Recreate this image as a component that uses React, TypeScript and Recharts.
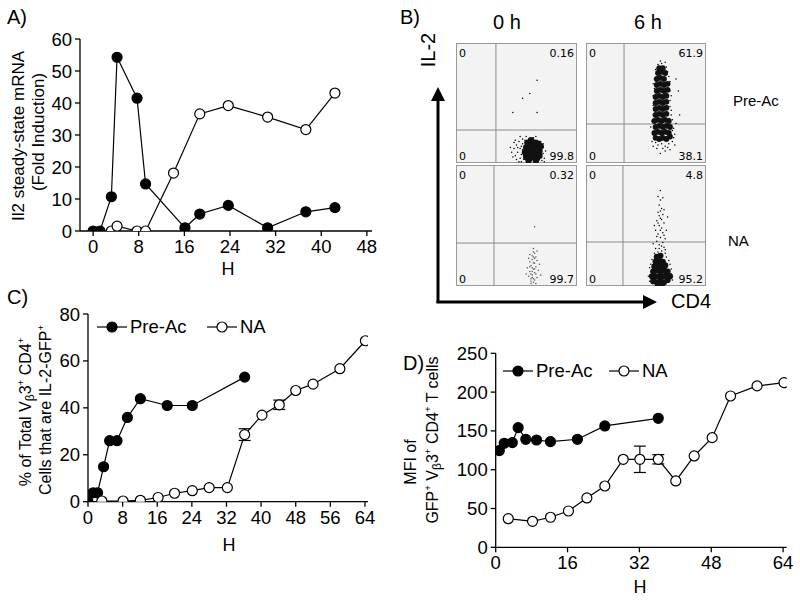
import React from 'react'
import {
  LineChart,
  Line,
  XAxis,
  YAxis,
  ErrorBar,
  ScatterChart,
  Scatter,
  ReferenceLine,
} from 'recharts'

const SANS = '"Liberation Sans", Arial, Helvetica, sans-serif'
const FLOW = '"DejaVu Sans", Verdana, sans-serif'

// A) Il2 steady-state mRNA (fold induction) vs H
const aPreAcH = [0, 1.2, 3.2, 4.2, 7.7, 9.2, 16.1, 18.7, 23.7, 30.6, 37.3, 42.4]
const aPreAcVal = [0, 0, 10.7, 54.3, 41.5, 14.7, 1.0, 5.3, 8.0, 1.0, 6.0, 7.3]
const aNaH = [3.2, 4.2, 7.7, 9.2, 14.1, 18.7, 23.7, 30.6, 37.3, 42.4]
const aNaVal = [0, 1.5, 0, 0, 18.1, 36.6, 39.2, 35.6, 31.7, 43.1]
const aTicksX = [0, 8, 16, 24, 32, 40, 48]
const aTicksY = [0, 10, 20, 30, 40, 50, 60]

// C) % IL-2-GFP+ cells
const cPreAcH = [0, 1.2, 2.2, 3.6, 5.0, 6.7, 9.1, 12.1, 18.3, 24.1, 36.2]
const cPreAcVal = [0, 3.8, 3.8, 14.9, 26.0, 26.0, 35.9, 43.9, 41.0, 41.0, 53.1]
const cNaH = [3.2, 8.1, 12.1, 16.2, 20.0, 24.1, 28.0, 32.2, 36.2, 40.2, 44.2, 48.0, 52.0, 58.2, 64.1]
const cNaVal = [0.3, 0.3, 0.6, 1.8, 3.6, 4.7, 6.0, 6.0, 28.6, 36.9, 41.3, 47.4, 50.1, 56.7, 68.6]
const cNaErr = [null, null, null, null, null, null, null, null, 2.5, null, 2, null, null, null, null]
const cTicksX = [0, 8, 16, 24, 32, 40, 48, 56, 64]
const cTicksY = [0, 20, 40, 60, 80]

// D) MFI of GFP+ cells
const dPreAcH = [0.8, 1.9, 3.7, 5.0, 6.7, 9.1, 12.2, 18.2, 24.3, 36.2]
const dPreAcVal = [124.6, 134, 134.9, 154.2, 139.2, 138.3, 136.2, 139.2, 156.4, 166.2]
const dNaH = [2.8, 8.2, 12.2, 16.2, 20.3, 24.3, 28.4, 32.1, 36.2, 40.1, 44.2, 48.2, 52.3, 58.2, 64.2]
const dNaVal = [36.9, 33.5, 38.7, 46.8, 63.6, 79.0, 113.4, 113.4, 113.4, 85.5, 117.7, 141.3, 195, 208, 212.2]
const dNaErr = [null, null, null, null, null, null, null, 17, 6, null, null, null, null, null, null]
const dTicksX = [0, 16, 32, 48, 64]
const dTicksY = [0, 50, 100, 150, 200, 250]

// B) flow plots, CD4 (x) vs IL-2 (y), box units 0-100
const preAc0Core = [
  [58, 5], [61, 4], [64, 5], [67, 4], [69, 6], [57, 9], [60, 8], [63, 9], [66, 8], [69, 10],
  [58, 13], [61, 12], [64, 13], [67, 12], [70, 14], [59, 17], [62, 16], [65, 17], [68, 16],
  [60, 2], [66, 2], [62, 19],
]
const preAc0Sparse = [
  [46, 9], [48, 12], [49, 6], [50, 15], [51, 9], [52, 18], [53, 4], [53, 12], [54, 7], [55, 16],
  [55, 20], [56, 3], [57, 19], [61, 20], [64, 21], [67, 19], [70, 18], [72, 8], [72, 13], [73, 4],
  [71, 2], [48, 17], [50, 3], [52, 1], [47, 5], [49, 19], [51, 13], [54, 1], [55, 11], [53, 22],
  [58, 22], [66, 22], [72, 16], [74, 10], [73, 1], [45, 13], [56, 6], [54, 14],
  [67, 69], [61, 58], [55, 54], [47, 42], [67, 42],
]
const preAc6Core = [
  [58, 21], [61, 20], [64, 21], [67, 20], [70, 22], [57, 25], [60, 26], [63, 25], [66, 26], [69, 25],
  [58, 30], [61, 31], [64, 30], [67, 31], [70, 30], [57, 35], [60, 36], [63, 35], [66, 36], [69, 35],
  [58, 40], [61, 41], [64, 40], [67, 41], [58, 45], [61, 46], [64, 45], [67, 46], [58, 50], [61, 51],
  [64, 50], [67, 51], [58, 55], [61, 56], [64, 55], [67, 56], [59, 60], [62, 61], [65, 60], [68, 61],
  [59, 65], [62, 66], [65, 65], [68, 66], [59, 70], [62, 71], [65, 70], [60, 75], [63, 76], [66, 75],
  [61, 79], [64, 79],
]
const preAc6Sparse = [
  [55, 18], [56, 14], [60, 15], [63, 16], [66, 14], [69, 16], [72, 18], [74, 24], [73, 29], [72, 36],
  [71, 44], [70, 52], [70, 60], [70, 68], [56, 40], [56, 48], [56, 56], [57, 62], [57, 70], [58, 78],
  [68, 76], [67, 80], [63, 83], [75, 70], [77, 60], [78, 40], [54, 30], [66, 10], [62, 8], [59, 12],
  [73, 21], [75, 33], [72, 27], [71, 40], [70, 47], [71, 56], [69, 72], [56, 24], [55, 35], [56, 66],
  [60, 82], [66, 84], [62, 85], [58, 17], [68, 13], [64, 12], [74, 15], [70, 11],
]
const na0Dots = [
  [62, 4], [64, 6], [63, 9], [65, 11], [61, 12], [64, 14], [66, 16], [62, 17], [65, 19], [63, 22],
  [66, 24], [61, 26], [64, 28], [67, 29], [60, 8], [67, 7], [62, 2], [66, 2], [59, 15], [68, 13],
  [63, 25], [65, 5], [61, 20], [67, 21], [64, 31], [60, 23], [69, 18], [58, 10], [70, 9], [65, 27],
  [63, 15], [62, 6], [66, 10], [64, 19], [63, 12], [61, 16], [65, 23], [64, 3], [63, 7], [65, 14],
  [62, 10], [64, 24], [65, 49],
]
const na6Core = [
  [56, 4], [59, 3], [62, 4], [65, 3], [68, 5], [55, 8], [58, 8], [61, 8], [64, 8], [67, 9],
  [70, 8], [56, 12], [59, 13], [62, 12], [65, 13], [68, 12], [57, 16], [60, 17], [63, 16], [66, 17],
  [58, 20], [61, 21], [64, 20], [59, 24], [62, 25], [60, 1], [63, 1],
]
const na6Sparse = [
  [60, 28], [63, 29], [58, 31], [65, 32], [61, 34], [64, 36], [59, 37], [66, 39], [62, 40], [60, 43],
  [64, 44], [58, 46], [63, 48], [61, 50], [65, 52], [59, 54], [62, 56], [64, 59], [60, 61], [63, 64],
  [61, 67], [62, 71], [60, 74], [64, 73], [66, 30], [57, 27], [55, 22], [53, 15], [52, 8], [71, 14],
  [72, 5], [70, 18], [67, 24], [56, 35], [67, 46], [57, 50], [68, 57], [61, 31], [63, 33], [59, 41],
  [65, 42], [62, 46], [60, 52], [63, 55], [61, 58], [65, 63], [62, 62], [66, 27], [58, 26], [54, 18],
  [71, 10], [53, 4], [69, 21], [62, 79],
]

const zip = (hs: number[], vs: number[], errs?: (number | null)[]) =>
  hs.map((h, i) => ({ h, v: vs[i], err: errs && errs[i] != null ? errs[i] : undefined }))
const pts = (arr: number[][]) => arr.map(([x, y]) => ({ x, y }))

const tickStyle = { fontSize: 18.5, fill: '#000', fontFamily: SANS }
const axisLine = { stroke: '#000', strokeWidth: 1.3 }

function Txt({ x, y, size = 18, rotate = false, anchor = 'center', family = SANS, children }: any) {
  const tx = anchor === 'center' ? '-50%' : anchor === 'end' ? '-100%' : '0'
  return (
    <div
      style={{
        position: 'absolute', left: x, top: y, fontSize: size, fontFamily: family, lineHeight: 1,
        whiteSpace: 'nowrap', color: '#000',
        transform: `translate(${tx},-50%)${rotate ? ' rotate(-90deg)' : ''}`,
      }}
    >
      {children}
    </div>
  )
}

const Sup = ({ children }: any) => <sup style={{ fontSize: '0.6em', verticalAlign: '0.7em' }}>{children}</sup>
const Sub = ({ children }: any) => <sub style={{ fontSize: '0.75em', verticalAlign: '-0.2em' }}>{children}</sub>

function LegendKey({ x, y, filled, label }: any) {
  return (
    <div style={{ position: 'absolute', left: x, top: y - 10, height: 20, display: 'flex', alignItems: 'center' }}>
      <svg width={30} height={20}>
        <line x1={0} y1={10} x2={30} y2={10} stroke="#000" strokeWidth={1.2} />
        <circle cx={15} cy={10} r={5} fill={filled ? '#000' : '#fff'} stroke="#000" strokeWidth={1.2} />
      </svg>
      <span style={{ fontFamily: SANS, fontSize: 18.5, marginLeft: 3, lineHeight: 1 }}>{label}</span>
    </div>
  )
}

const dotFilled = { r: 5, fill: '#000', stroke: '#000', strokeWidth: 1.2 }
const dotOpen = { r: 5, fill: '#fff', stroke: '#000', strokeWidth: 1.2 }

function Panel({ left, top, width, height, margin, xDomain, xTicks, yDomain, yTicks, yWidth, series }: any) {
  return (
    <div style={{ position: 'absolute', left, top }}>
      <LineChart width={width} height={height} margin={margin}>
        <XAxis
          type="number" dataKey="h" domain={xDomain} ticks={xTicks} allowDataOverflow height={30}
          tick={tickStyle} tickSize={5} tickMargin={4} axisLine={axisLine} tickLine={axisLine} interval={0}
        />
        <YAxis
          type="number" dataKey="v" domain={yDomain} ticks={yTicks} allowDataOverflow width={yWidth}
          tick={tickStyle} tickSize={5} tickMargin={3} axisLine={axisLine} tickLine={axisLine} interval={0}
        />
        {series.map((s: any, i: number) => (
          <Line
            key={i} data={s.data} dataKey="v" type="linear" stroke="#000" strokeWidth={1.2}
            dot={s.filled ? dotFilled : dotOpen} activeDot={false} isAnimationActive={false}
          >
            {s.err && <ErrorBar dataKey="err" direction="y" width={6} stroke="#000" strokeWidth={1.2} />}
          </Line>
        ))}
      </LineChart>
    </div>
  )
}

const dotShape = (r: number, fill: string) => (p: any) => <circle cx={p.cx} cy={p.cy} r={r} fill={fill} />

function FlowBox({ left, top, width, height, vx, hy, core, sparse, coreR = 3, sparseFill = '#000', tl, tr, bl, br }: any) {
  return (
    <div style={{ position: 'absolute', left, top, width, height, background: '#f3f3f3', outline: '1px solid #9a9a9a', outlineOffset: -1 }}>
      <ScatterChart width={width} height={height} margin={{ top: 0, right: 0, bottom: 0, left: 0 }}>
        <XAxis type="number" dataKey="x" domain={[0, 100]} hide />
        <YAxis type="number" dataKey="y" domain={[0, 100]} hide />
        <ReferenceLine x={vx} stroke="#8c8c8c" strokeWidth={1} />
        <ReferenceLine y={hy} stroke="#8c8c8c" strokeWidth={1} />
        {sparse && <Scatter data={pts(sparse)} shape={dotShape(0.75, sparseFill)} isAnimationActive={false} />}
        {core && <Scatter data={pts(core)} shape={dotShape(coreR, '#111')} isAnimationActive={false} />}
      </ScatterChart>
      <Txt x={3} y={10} size={11} anchor="start" family={FLOW}>{tl}</Txt>
      <Txt x={width - 3} y={10} size={11} anchor="end" family={FLOW}>{tr}</Txt>
      <Txt x={3} y={height - 7} size={11} anchor="start" family={FLOW}>{bl}</Txt>
      <Txt x={width - 3} y={height - 7} size={11} anchor="end" family={FLOW}>{br}</Txt>
    </div>
  )
}

export default function App() {
  return (
    <div style={{ position: 'absolute', left: 0, top: 0, width: 800, height: 602, background: '#fff', overflow: 'hidden' }}>
      {/* A */}
      <Txt x={7} y={17} size={20} anchor="start">A)</Txt>
      <Panel
        left={0} top={0} width={400} height={290}
        margin={{ top: 39, right: 28, bottom: 29, left: 40 }}
        xDomain={[-2.3, 48.9]} xTicks={aTicksX} yDomain={[0, 60]} yTicks={aTicksY} yWidth={40}
        series={[
          { data: zip(aPreAcH, aPreAcVal), filled: true },
          { data: zip(aNaH, aNaVal), filled: false },
        ]}
      />
      <Txt x={17.5} y={136} size={17} rotate>Il2 steady-state mRNA</Txt>
      <Txt x={38} y={132} size={17} rotate>(Fold Induction)</Txt>
      <Txt x={228} y={269} size={18}>H</Txt>

      {/* B */}
      <Txt x={400} y={17} size={20} anchor="start">B)</Txt>
      <Txt x={507} y={22} size={20}>0 h</Txt>
      <Txt x={648} y={22} size={20}>6 h</Txt>
      <Txt x={428} y={50} size={20} rotate>IL-2</Txt>
      <Txt x={691} y={301} size={20}>CD4</Txt>
      <svg style={{ position: 'absolute', left: 0, top: 0 }} width={800} height={602}>
        <line x1={438} y1={303} x2={438} y2={98} stroke="#000" strokeWidth={3} />
        <polygon points="438,87 431,101 445,101" fill="#000" />
        <line x1={436.5} y1={302} x2={646} y2={302} stroke="#000" strokeWidth={3} />
        <polygon points="657,302 643,295 643,309" fill="#000" />
      </svg>
      <FlowBox left={456} top={43} width={121} height={120} vx={33} hy={27.5}
        core={preAc0Core} sparse={preAc0Sparse} coreR={3.2} tl="0" tr="0.16" bl="0" br="99.8" />
      <FlowBox left={586} top={43} width={120} height={120} vx={31.7} hy={32.5}
        core={preAc6Core} sparse={preAc6Sparse} coreR={2.9} tl="0" tr="61.9" bl="0" br="38.1" />
      <FlowBox left={456} top={165} width={121} height={121} vx={31.4} hy={35.5}
        sparse={na0Dots} sparseFill="#555" tl="0" tr="0.32" bl="0" br="99.7" />
      <FlowBox left={586} top={165} width={120} height={121} vx={30.8} hy={36.4}
        core={na6Core} sparse={na6Sparse} coreR={3.1} tl="0" tr="4.8" bl="0" br="95.2" />
      <Txt x={733} y={100} size={15} anchor="start">Pre-Ac</Txt>
      <Txt x={728} y={240} size={15} anchor="start">NA</Txt>

      {/* C */}
      <Txt x={7} y={297} size={20} anchor="start">C)</Txt>
      <Panel
        left={0} top={300} width={400} height={302}
        margin={{ top: 14, right: 32, bottom: 70.3, left: 48 }}
        xDomain={[0, 64.7]} xTicks={cTicksX} yDomain={[0, 80]} yTicks={cTicksY} yWidth={40}
        series={[
          { data: zip(cPreAcH, cPreAcVal), filled: true },
          { data: zip(cNaH, cNaVal, cNaErr), filled: false, err: true },
        ]}
      />
      <LegendKey x={97} y={327} filled label="Pre-Ac" />
      <LegendKey x={207} y={327} filled={false} label="NA" />
      <Txt x={26} y={412} size={16} rotate>% of Total V<Sub>β</Sub>3<Sup>+</Sup> CD4<Sup>+</Sup></Txt>
      <Txt x={45} y={410} size={16} rotate>Cells that are IL-2-GFP<Sup>+</Sup></Txt>
      <Txt x={229} y={545} size={18}>H</Txt>

      {/* D */}
      <Txt x={403} y={363} size={20} anchor="start">D)</Txt>
      <Panel
        left={400} top={300} width={400} height={302}
        margin={{ top: 53.3, right: 13.3, bottom: 24.7, left: 50.7 }}
        xDomain={[0, 64.8]} xTicks={dTicksX} yDomain={[0, 250]} yTicks={dTicksY} yWidth={45}
        series={[
          { data: zip(dPreAcH, dPreAcVal), filled: true },
          { data: zip(dNaH, dNaVal, dNaErr), filled: false, err: true },
        ]}
      />
      <LegendKey x={503} y={371} filled label="Pre-Ac" />
      <LegendKey x={609} y={371} filled={false} label="NA" />
      <Txt x={411} y={462} size={16} rotate>MFI of</Txt>
      <Txt x={433} y={440} size={16} rotate>GFP<Sup>+</Sup> V<Sub>β</Sub>3<Sup>+</Sup> CD4<Sup>+</Sup> T cells</Txt>
      <Txt x={640} y={587} size={18}>H</Txt>
    </div>
  )
}
